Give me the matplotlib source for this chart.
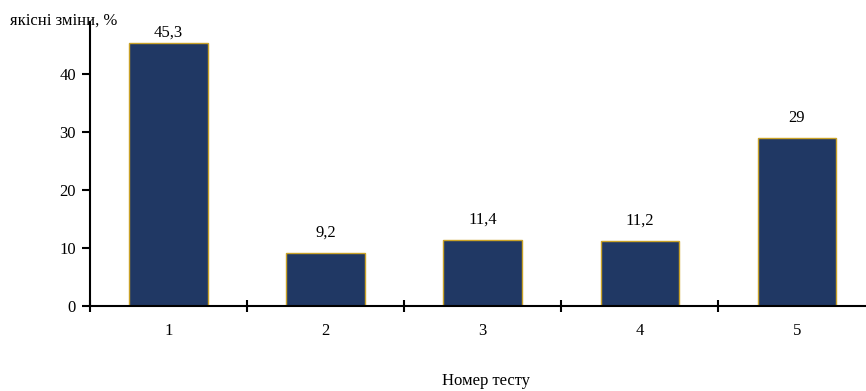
import matplotlib.pyplot as plt

tests = ['1', '2', '3', '4', '5']
changes = [45.3, 9.2, 11.4, 11.2, 29]
value_labels = ['45,3', '9,2', '11,4', '11,2', '29']

plt.rcParams['font.family'] = ['Liberation Serif', 'DejaVu Serif']

fig = plt.figure(figsize=(8.66, 3.91), dpi=100)
ax = fig.add_axes([90 / 866, 1 - 306 / 391, 1 - 90 / 866, 284 / 391])

x = range(len(tests))
ax.bar(x, changes, width=0.5, color='#203864', edgecolor='#C9A227', linewidth=1.0)
for i, (v, lab) in enumerate(zip(changes, value_labels)):
    # keep the tallest label inside the plot area
    ax.text(i, min(v + 3.5, 47.1), lab, ha='center', va='center', fontsize=12)

ax.set_xlim(-0.5, 4.44)
ax.set_ylim(0, 49)
ax.set_yticks([0, 10, 20, 30, 40])
ax.set_xticks([i - 0.5 for i in range(len(tests))])
ax.set_xticks(list(x), minor=True)
ax.set_xticklabels([])
ax.set_xticklabels(tests, minor=True)
ax.tick_params(axis='x', which='minor', length=0, pad=12, labelsize=12)
ax.tick_params(axis='x', which='major', direction='inout', length=8, width=1.5)
ax.tick_params(axis='y', direction='out', length=6, width=1.5, pad=4, labelsize=12)

for side in ['top', 'right']:
    ax.spines[side].set_visible(False)
for side in ['left', 'bottom']:
    ax.spines[side].set_linewidth(1.5)

fig.text(10 / 866, 1 - 21 / 391, 'якісні зміни, %', ha='left', va='center', fontsize=12)
fig.text(486 / 866, 1 - 381 / 391, 'Номер тесту', ha='center', va='center', fontsize=12)

fig.savefig('out.png', dpi=100)
